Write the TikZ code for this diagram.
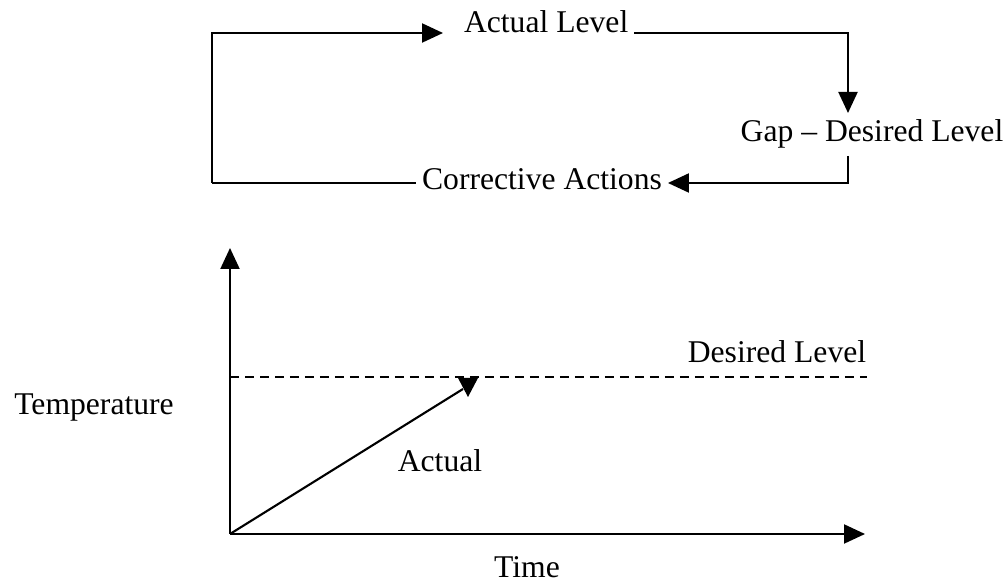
\documentclass[tikz,border=0pt]{standalone}
\usepackage{fontspec}
\setmainfont{Liberation Serif}
\usetikzlibrary{arrows.meta}

\begin{document}
\begin{tikzpicture}[
    line width=0.6pt,
    lbl/.style={font=\fontsize{9}{11}\selectfont, inner sep=0pt},
    arrow/.style={-{Triangle[length=0.21cm,width=0.19cm]}},
    dashline/.style={dash pattern=on 0.09cm off 0.06cm}
]
\useasboundingbox (0,0) rectangle (10.07,5.86);

% Top loop: actual level -> gap -> corrective actions
\node[lbl, anchor=base west, inner xsep=0.05cm] (actual) at (4.58, 5.53) {Actual Level};
\node[lbl, anchor=base, inner ysep=0.06cm] (gap) at (8.72, 4.44) {Gap -- Desired Level};
\node[lbl, anchor=base, inner xsep=0.05cm] (corr) at (5.42, 3.96) {Corrective Actions};

\coordinate (tl) at (2.12, 5.53);
\coordinate (tr) at (8.48, 5.53);
\coordinate (br) at (8.48, 4.03);
\coordinate (bl) at (2.12, 4.03);

\draw[arrow, shorten >=0.15cm] (bl) -- (tl) -- (actual.base west);
\draw[arrow] (actual.base east) -- (tr) -- (tr |- gap.north);
\draw[arrow] (tr |- gap.south) -- (br) -- (br -| corr.east);
\draw (bl) -- (bl -| corr.west);

% Bottom chart: temperature over time
\coordinate (origin) at (2.30, 0.52);
\coordinate (ytip) at (2.30, 3.38);
\coordinate (xtip) at (8.65, 0.52);
\coordinate (dl) at (2.30, 2.09);
\coordinate (dr) at (8.67, 2.09);
\coordinate (aend) at (4.63, 1.97);

\node[lbl, anchor=base] (temp) at (0.94, 1.71) {Temperature};
\node[lbl, anchor=base] (time) at (5.27, 0.08) {Time};
\node[lbl, anchor=base] (desired) at (7.77, 2.23) {Desired Level};
\node[lbl, anchor=base] (act) at (4.40, 1.14) {Actual};

\draw[arrow] (origin) -- (ytip);
\draw[arrow] (origin) -- (xtip);
\draw[dashline] (dl) -- (dr);

% Actual rise, with its head turned down onto the desired level
\draw (origin) -- (aend);
\fill (4.58, 2.08) -- (4.78, 2.08) -- (4.68, 1.89) -- cycle;

\end{tikzpicture}
\end{document}
